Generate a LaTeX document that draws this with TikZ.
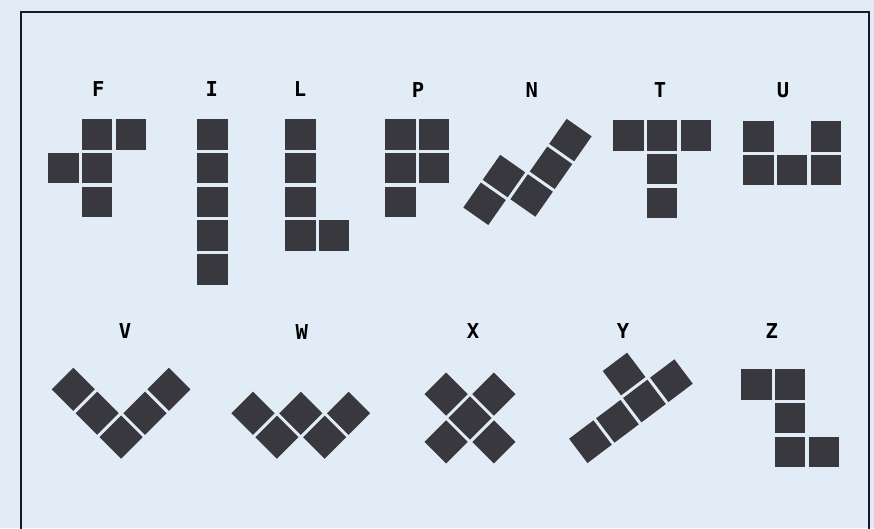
\documentclass[tikz,border=0pt]{standalone}
\usepackage{fontspec}
\newfontfamily\labfont{DejaVu Sans Mono}
\definecolor{bg}{RGB}{226,236,247}
\definecolor{tile}{RGB}{56,56,62}
\definecolor{framecol}{RGB}{22,26,40}
\tikzset{
  tilesq/.style={fill=tile, draw=none},
  lab/.style={font=\labfont\bfseries\fontsize{20.5}{24}\selectfont, anchor=base, inner sep=0pt, text=black},
  framebox/.style={draw=framecol, line width=2pt},
}
\newcommand\cell[2]{\fill[tilesq] ({#1*33.8-15.25},{#2*33.8-15.25}) rectangle ++(30.5,30.5);}
\begin{document}
\begin{tikzpicture}[x=1pt,y=-1pt]
\useasboundingbox (0,0) rectangle (874,528);
\clip (0,0) rectangle (874,528);
\fill[bg] (0,0) rectangle (874,528);
\draw[framebox] (21,12) rectangle (869,560);

% labels
\node[lab] (labF) at (98.3,96.5) {F};
\node[lab] (labI) at (211.7,96.5) {I};
\node[lab] (labL) at (300,96.5) {L};
\node[lab] (labP) at (418,97) {P};
\node[lab] (labN) at (531.7,97) {N};
\node[lab] (labT) at (660,97) {T};
\node[lab] (labU) at (783,97) {U};
\node[lab] (labV) at (125,338) {V};
\node[lab] (labW) at (301.7,339) {W};
\node[lab] (labX) at (473,338) {X};
\node[lab] (labY) at (623,338) {Y};
\node[lab] (labZ) at (771.7,338) {Z};

% F
\begin{scope}[shift={(63.25,134.25)}]
\cell{1}{0}\cell{2}{0}\cell{0}{1}\cell{1}{1}\cell{1}{2}
\end{scope}
% I
\begin{scope}[shift={(212.25,134.25)}]
\cell{0}{0}\cell{0}{1}\cell{0}{2}\cell{0}{3}\cell{0}{4}
\end{scope}
% L
\begin{scope}[shift={(300.25,134.25)}]
\cell{0}{0}\cell{0}{1}\cell{0}{2}\cell{0}{3}\cell{1}{3}
\end{scope}
% P
\begin{scope}[shift={(400.25,134.25)}]
\cell{0}{0}\cell{1}{0}\cell{0}{1}\cell{1}{1}\cell{0}{2}
\end{scope}
% N
\begin{scope}[shift={(542.7,120.7)}, rotate=-35]
\cell{1}{0}\cell{1}{1}\cell{1}{2}\cell{0}{2}\cell{0}{3}
\end{scope}
% T
\begin{scope}[shift={(628.25,135.25)}]
\cell{0}{0}\cell{1}{0}\cell{2}{0}\cell{1}{1}\cell{1}{2}
\end{scope}
% U
\begin{scope}[shift={(758.25,136.25)}]
\cell{0}{0}\cell{2}{0}\cell{0}{1}\cell{1}{1}\cell{2}{1}
\end{scope}
% V
\begin{scope}[shift={(73.3,389.3)}, rotate=-45]
\cell{0}{0}\cell{1}{0}\cell{2}{0}\cell{2}{-1}\cell{2}{-2}
\end{scope}
% W
\begin{scope}[shift={(253,413.3)}, rotate=-45]
\cell{0}{0}\cell{1}{0}\cell{1}{-1}\cell{2}{-1}\cell{2}{-2}
\end{scope}
% X
\begin{scope}[shift={(470,418)}, rotate=-45]
\cell{0}{0}\cell{1}{0}\cell{-1}{0}\cell{0}{1}\cell{0}{-1}
\end{scope}
% Y
\begin{scope}[shift={(590.45,441.7)}, rotate=37]
\cell{0}{0}\cell{1}{0}\cell{2}{0}\cell{3}{0}\cell{2}{-1}
\end{scope}
% Z
\begin{scope}[shift={(756.25,384.25)}]
\cell{0}{0}\cell{1}{0}\cell{1}{1}\cell{1}{2}\cell{2}{2}
\end{scope}
\end{tikzpicture}
\end{document}
